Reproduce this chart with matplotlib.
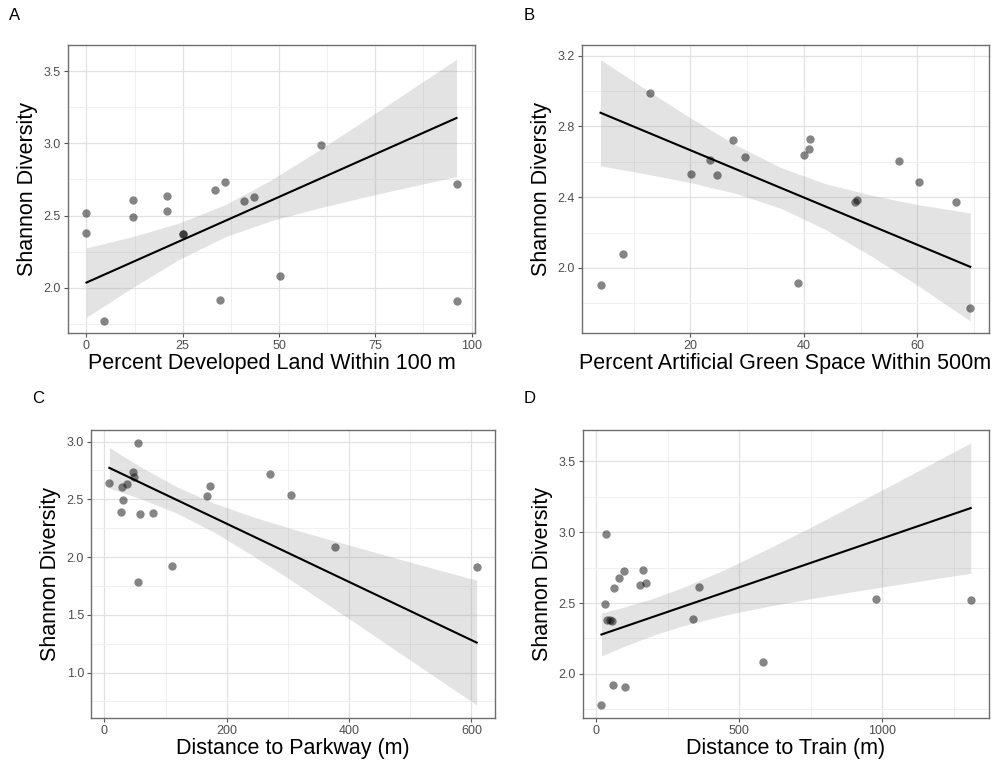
import matplotlib
matplotlib.use("Agg")
import matplotlib.pyplot as plt
from matplotlib.ticker import MultipleLocator, FixedLocator

plt.rcParams['font.family'] = ['Liberation Sans', 'DejaVu Sans']

# ---------------- data ----------------
# Panel A
a_x = [0, 0, 4.5, 12.0, 12.0, 20.8, 20.8, 25.0, 25.0, 33.4, 36.0, 34.8, 41.0, 43.6, 50.2, 61.0, 96.1, 96.1]
a_y = [2.52, 2.383, 1.774, 2.61, 2.487, 2.637, 2.531, 2.37, 2.375, 2.674, 2.729, 1.917, 2.602, 2.628, 2.081, 2.985, 2.72, 1.908]
a_line_x = [0, 96.1]
a_line_y = [2.037, 3.175]
a_band_x = [0, 12, 24, 36, 48, 60, 72, 84, 96.1]
a_band_lo = [1.797, 2.003, 2.196, 2.353, 2.465, 2.55, 2.627, 2.699, 2.77]
a_band_hi = [2.277, 2.355, 2.448, 2.575, 2.747, 2.946, 3.155, 3.367, 3.58]

# Panel B
b_x = [4.16, 8.09, 12.96, 20.1, 23.5, 24.75, 27.5, 29.7, 38.9, 40.06, 40.94, 41.1, 48.97, 49.3, 56.66, 60.3, 66.75, 69.3]
b_y = [1.906, 2.079, 2.987, 2.530, 2.611, 2.525, 2.721, 2.628, 1.915, 2.636, 2.672, 2.730, 2.370, 2.381, 2.602, 2.487, 2.375, 1.774]
b_line_x = [4.16, 69.3]
b_line_y = [2.877, 2.006]
b_band_x = [4.16, 12, 20, 28, 36, 44, 52, 60, 69.3]
b_band_lo = [2.577, 2.532, 2.482, 2.421, 2.336, 2.214, 2.064, 1.902, 1.70]
b_band_hi = [3.177, 3.012, 2.848, 2.695, 2.566, 2.474, 2.41, 2.358, 2.31]

# Panel C
c_x = [8.1, 27.1, 28.7, 30.9, 36.8, 46.6, 47.6, 54.7, 54.7, 57.9, 79.6, 110.4, 167.3, 172.7, 271.2, 304.3, 376.8, 608.6]
c_y = [2.640, 2.386, 2.605, 2.493, 2.631, 2.732, 2.689, 2.991, 1.781, 2.372, 2.378, 1.925, 2.527, 2.617, 2.723, 2.536, 2.086, 1.914]
c_line_x = [8.1, 608.6]
c_line_y = [2.772, 1.259]
c_band_x = [8.1, 60, 120, 180, 240, 300, 360, 420, 480, 540, 608.6]
c_band_lo = [2.596, 2.504, 2.376, 2.213, 2.021, 1.817, 1.607, 1.394, 1.179, 0.964, 0.719]
c_band_hi = [2.948, 2.778, 2.604, 2.465, 2.353, 2.255, 2.163, 2.074, 1.985, 1.898, 1.799]

# Panel D
d_x = [17.5, 30.3, 33.8, 36.1, 46.6, 53.6, 60.6, 59.4, 80.4, 95.6, 101.4, 151.5, 164.3, 173.7, 339.2, 360.1, 582.8, 980.2, 1310.0]
d_y = [1.779, 2.490, 2.989, 2.377, 2.377, 2.370, 2.603, 1.920, 2.676, 2.723, 1.911, 2.629, 2.730, 2.639, 2.386, 2.614, 2.082, 2.532, 2.525]
d_line_x = [17.5, 1310]
d_line_y = [2.278, 3.170]
d_band_x = [17.5, 100, 200, 300, 450, 600, 750, 900, 1050, 1200, 1310]
d_band_lo = [2.126, 2.197, 2.274, 2.338, 2.415, 2.477, 2.531, 2.581, 2.629, 2.676, 2.71]
d_band_hi = [2.430, 2.473, 2.534, 2.608, 2.737, 2.883, 3.035, 3.193, 3.351, 3.512, 3.63]

panel_letters = ["A", "B", "C", "D"]
x_labels = ["Percent Developed Land Within 100 m",
            "Percent Artificial Green Space Within 500m",
            "Distance to Parkway (m)",
            "Distance to Train (m)"]
y_label = "Shannon Diversity"

x_major = [[0, 25, 50, 75, 100], [20, 40, 60], [0, 200, 400, 600], [0, 500, 1000]]
x_minor = [[12.5, 37.5, 62.5, 87.5], [10, 30, 50, 70], [100, 300, 500], [250, 750, 1250]]
y_major = [[2.0, 2.5, 3.0, 3.5], [2.0, 2.4, 2.8, 3.2], [1.0, 1.5, 2.0, 2.5, 3.0], [2.0, 2.5, 3.0, 3.5]]
y_minor = [[1.75, 2.25, 2.75, 3.25], [1.8, 2.2, 2.6, 3.0], [0.75, 1.25, 1.75, 2.25, 2.75], [1.75, 2.25, 2.75, 3.25]]
x_tick_fmt = ["{:g}", "{:g}", "{:g}", "{:g}"]
y_tick_fmt = ["{:.1f}", "{:.1f}", "{:.1f}", "{:.1f}"]

# ---------------- layout ----------------
W, H = 992, 761
fig = plt.figure(figsize=(W / 100, H / 100), dpi=100)

boxes = [(68, 45, 475, 333), (582, 45, 989, 333), (91, 430, 495, 718), (583, 430, 989, 718)]
limits = [((-4.8, 100.9), (1.688, 3.68)),
          ((0.9, 72.6), (1.632, 3.26)),
          ((-21.9, 638.6), (0.606, 3.10)),
          ((-47, 1374), (1.689, 3.721))]
letter_pos = [(15, 15), (529, 15), (38, 399), (530, 399)]

panels = [
    (a_x, a_y, a_line_x, a_line_y, a_band_x, a_band_lo, a_band_hi),
    (b_x, b_y, b_line_x, b_line_y, b_band_x, b_band_lo, b_band_hi),
    (c_x, c_y, c_line_x, c_line_y, c_band_x, c_band_lo, c_band_hi),
    (d_x, d_y, d_line_x, d_line_y, d_band_x, d_band_lo, d_band_hi),
]

for i, (px, py, lx, ly, bx, blo, bhi) in enumerate(panels):
    l, t, r, b = boxes[i]
    ax = fig.add_axes([l / W, 1 - b / H, (r - l) / W, (b - t) / H])
    ax.set_facecolor("white")
    ax.set_xlim(*limits[i][0])
    ax.set_ylim(*limits[i][1])

    ax.xaxis.set_major_locator(FixedLocator(x_major[i]))
    ax.xaxis.set_minor_locator(FixedLocator(x_minor[i]))
    ax.yaxis.set_major_locator(FixedLocator(y_major[i]))
    ax.yaxis.set_minor_locator(FixedLocator(y_minor[i]))
    ax.set_xticklabels([x_tick_fmt[i].format(v) for v in x_major[i]])
    ax.set_yticklabels([y_tick_fmt[i].format(v) for v in y_major[i]])

    ax.grid(which="major", color="#E2E2E2", linewidth=0.9, zorder=0)
    ax.grid(which="minor", color="#F0F0F0", linewidth=0.7, zorder=0)
    ax.set_axisbelow(True)

    ax.fill_between(bx, blo, bhi, color="#999999", alpha=0.27, linewidth=0, zorder=2)
    ax.scatter(px, py, s=36, color="black", alpha=0.48, linewidths=0, zorder=3)
    ax.plot(lx, ly, color="black", linewidth=1.5, zorder=4)

    for sp in ax.spines.values():
        sp.set_color("#6E6E6E")
        sp.set_linewidth(1.0)

    ax.tick_params(which="major", direction="out", length=3, width=0.8,
                   color="#555555", labelsize=9, labelcolor="#4D4D4D", pad=2)
    ax.tick_params(which="minor", length=0)

    ax.set_xlabel(x_labels[i], fontsize=15.5, color="black", labelpad=1)
    ax.set_ylabel(y_label, fontsize=15.5, color="black", labelpad=4)

    fx, fy = letter_pos[i]
    fig.text(fx / W, 1 - fy / H, panel_letters[i], fontsize=12,
             ha="center", va="center", color="black")

fig.savefig("out.png", dpi=100)
